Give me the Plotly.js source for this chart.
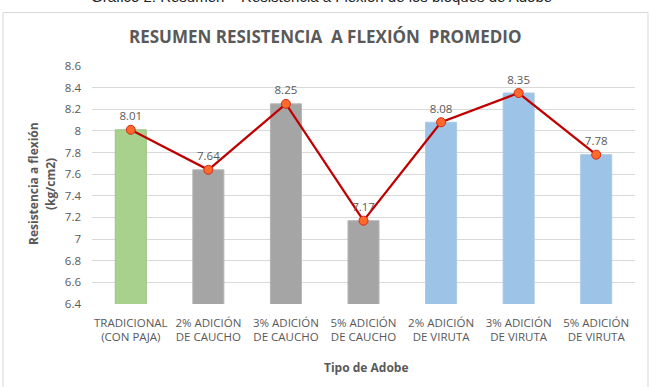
<!DOCTYPE html>
<html>
<head>
<meta charset="utf-8">
<script src="https://cdn.plot.ly/plotly-3.0.1.min.js"></script>
<style>
  html, body { margin: 0; padding: 0; background: #ffffff; }
  #chart { width: 653px; height: 387px; }
</style>
</head>
<body>
<div id="chart"></div>
<script>
// Adobe block types (two-line category labels)
const categories = [
  "TRADICIONAL<br>(CON PAJA)",
  "2% ADICIÓN<br>DE CAUCHO",
  "3% ADICIÓN<br>DE CAUCHO",
  "5% ADICIÓN<br>DE CAUCHO",
  "2% ADICIÓN<br>DE VIRUTA",
  "3% ADICIÓN<br>DE VIRUTA",
  "5% ADICIÓN<br>DE VIRUTA"
];

// Average flexural strength, kg/cm2
const resistencia = [8.01, 7.64, 8.25, 7.17, 8.08, 8.35, 7.78];

// Bar fill per group: traditional, rubber, wood shavings
const barColors = ["#A9D18E", "#A5A5A5", "#A5A5A5", "#A5A5A5", "#9DC3E6", "#9DC3E6", "#9DC3E6"];
const barEdges  = ["#9BC282", "#B4B4B4", "#B4B4B4", "#B4B4B4", "#A9C9E6", "#A9C9E6", "#A9C9E6"];

const labels = resistencia.map(v => v.toFixed(2));

const bars = {
  type: "bar",
  x: categories,
  y: resistencia,
  marker: { color: barColors, line: { color: barEdges, width: 1 } },
  hoverinfo: "x+y",
  showlegend: false
};

const line = {
  type: "scatter",
  mode: "lines+markers+text",
  x: categories,
  y: resistencia,
  text: labels,
  textposition: "top center",
  textfont: { family: "Open Sans, Arial, sans-serif", size: 11.5, color: "#595959" },
  line: { color: "#C00000", width: 2.25 },
  marker: { size: 9, color: "#FF6A2A", line: { color: "#D42A1A", width: 1 } },
  cliponaxis: false,
  showlegend: false
};

// plot area in pixels, used to place the frame and side texts in paper units
const L = 92, R = 18, T = 66, B = 83, W = 653, H = 387;
const pw = W - L - R, ph = H - T - B;
const px = x => (x - L) / pw;
const py = y => (H - B - y) / ph;

const axisTitleFont = { family: "Open Sans, Arial, sans-serif", size: 12, color: "#595959" };

const layout = {
  width: W,
  height: H,
  margin: { l: L, r: R, t: T, b: B },
  paper_bgcolor: "#ffffff",
  plot_bgcolor: "#ffffff",
  bargap: 0.6,
  font: { family: "Open Sans, Arial, sans-serif", color: "#595959" },
  title: {
    text: "<b>RESUMEN RESISTENCIA  A FLEXIÓN  PROMEDIO</b>",
    font: { family: "Open Sans, Arial, sans-serif", size: 17, color: "#595959" },
    x: 0.498, xanchor: "center",
    y: 1 - 37 / H, yanchor: "middle"
  },
  xaxis: {
    type: "category",
    tickfont: { size: 11.5, color: "#595959" },
    ticklabelstandoff: 10,
    showline: false,
    showgrid: false,
    ticks: "",
    fixedrange: true
  },
  yaxis: {
    range: [6.4, 8.6],
    dtick: 0.2,
    tick0: 6.4,
    gridcolor: "#D9D9D9",
    gridwidth: 1,
    zeroline: false,
    showline: false,
    ticks: "",
    ticklabelstandoff: 10,
    tickfont: { size: 11.5, color: "#595959" },
    fixedrange: true
  },
  shapes: [
    {
      type: "rect", xref: "paper", yref: "paper",
      x0: px(3), x1: px(648), y0: py(400), y1: py(12.5),
      line: { color: "#D9D9D9", width: 1 },
      fillcolor: "rgba(0,0,0,0)",
      layer: "below"
    }
  ],
  annotations: [
    {
      text: "Gráfico 2: Resumen – Resistencia a Flexión de los bloques de Adobe",
      xref: "paper", yref: "paper",
      x: px(321), y: py(7),
      xanchor: "center", yanchor: "bottom",
      showarrow: false,
      font: { family: "Liberation Sans, Arial, sans-serif", size: 15, color: "#222222" }
    },
    {
      text: "<b>Resistencia a flexión</b>",
      xref: "paper", yref: "paper",
      x: px(33), y: py(184),
      xanchor: "center", yanchor: "middle",
      textangle: -90,
      showarrow: false,
      font: axisTitleFont
    },
    {
      text: "<b>(kg/cm2)</b>",
      xref: "paper", yref: "paper",
      x: px(50), y: py(184),
      xanchor: "center", yanchor: "middle",
      textangle: -90,
      showarrow: false,
      font: axisTitleFont
    },
    {
      text: "<b>Tipo de Adobe</b>",
      xref: "paper", yref: "paper",
      x: px(366), y: py(367),
      xanchor: "center", yanchor: "middle",
      showarrow: false,
      font: axisTitleFont
    }
  ]
};

Plotly.newPlot("chart", [bars, line], layout, { displayModeBar: false, staticPlot: true });
</script>
</body>
</html>
